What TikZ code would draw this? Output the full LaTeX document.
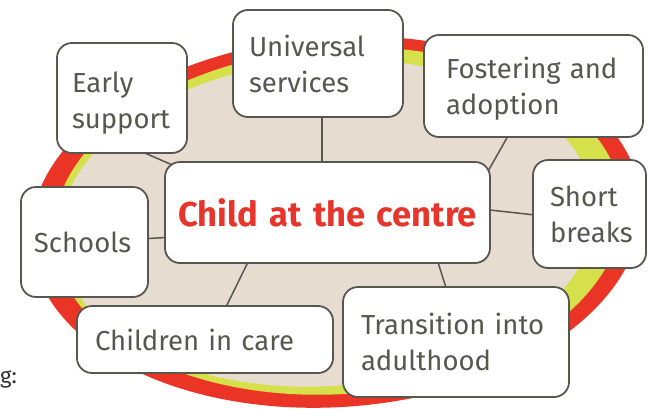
\documentclass[tikz,border=0pt]{standalone}
\usepackage{fontspec}
\setmainfont{Fira Sans}
\usetikzlibrary{calc}
\pgfdeclarelayer{ringlayer}
\pgfdeclarelayer{linklayer}
\pgfsetlayers{ringlayer,linklayer,main}
\definecolor{ringred}{HTML}{EA3426}
\definecolor{ringlime}{HTML}{D5E04B}
\definecolor{ringbeige}{HTML}{E6DDD0}
\definecolor{inkgray}{HTML}{57574F}
\definecolor{centrered}{HTML}{E8352B}
\tikzset{
  labelbox/.style={draw=inkgray, line width=1.8pt, fill=white, rounded corners=15pt,
    font=\fontsize{27.5}{36}\selectfont, text=inkgray, align=left, inner ysep=0pt},
  link/.style={draw=inkgray, line width=1.5pt},
}
\begin{document}
\begin{tikzpicture}[x=1pt,y=-1pt]
\useasboundingbox (0,0) rectangle (648,408);
% boxes
\node[labelbox, minimum width=130, minimum height=110, inner xsep=15pt, text width=100pt] (early) at (122,98) {\rule{0pt}{30pt}Early\\support};
\node[labelbox, minimum width=170, minimum height=107, inner xsep=16pt, text width=138pt] (univ) at (318,63.5) {Universal\\services};
\node[labelbox, minimum width=219, minimum height=102, inner xsep=22pt, text width=175pt] (foster) at (533.5,86) {\rule{0pt}{26pt}Fostering and\\adoption};
\node[labelbox, minimum width=325, minimum height=101, inner xsep=10pt, text width=305pt, align=center, text=centrered, font=\fontsize{34.5}{40}\selectfont\bfseries] (child) at (327.5,212.5) {Child at the centre};
\node[labelbox, minimum width=113, minimum height=108, inner xsep=17pt, text width=79pt] (short) at (589.5,214) {Short\\breaks};
\node[labelbox, minimum width=127, minimum height=110, inner xsep=13pt, text width=101pt] (schools) at (84.5,242) {Schools};
\node[labelbox, minimum width=256, minimum height=67, inner xsep=18pt, text width=220pt] (care) at (205,339.5) {Children in care};
\node[labelbox, minimum width=226, minimum height=110, inner xsep=18pt, text width=190pt] (trans) at (456,342) {Transition into\\adulthood};
\node[anchor=west, inner sep=0pt, text=black!80, font=\fontsize{22}{26}\selectfont] (cut) at (0,379) {g:};
% ring
\begin{pgfonlayer}{ringlayer}
\fill[ringred, rotate around={4:(336,222)}] (336,222) ellipse [x radius=306, y radius=185];
\fill[ringlime, rotate around={4:(338,221)}] (338,221) ellipse [x radius=285, y radius=173];
\fill[ringbeige, rotate around={4:(327,223)}] (327,223) ellipse [x radius=268, y radius=163];
\end{pgfonlayer}
% connectors
\begin{pgfonlayer}{linklayer}
\draw[link] ($(early.south)+(18,-3)$) -- ($(child.north west)+(20,9)$);
\draw[link] ($(univ.south)+(4,-7)$) -- ($(child.north)+(-5.5,8)$);
\draw[link] ($(foster.south)+(-21.5,-9)$) -- ($(child.north east)+(-9,21)$);
\draw[link] ($(child.east)+(-10,-3.5)$) -- ($(short.west)+(12,2)$);
\draw[link] ($(schools.east)+(-10,-3)$) -- ($(child.west)+(11,24.5)$);
\draw[link] ($(child.south)+(-76.5,-8)$) -- ($(care.north)+(18,8)$);
\draw[link] ($(child.south)+(108.5,-8)$) -- ($(trans.north)+(-8,8)$);
\end{pgfonlayer}
\end{tikzpicture}
\end{document}
